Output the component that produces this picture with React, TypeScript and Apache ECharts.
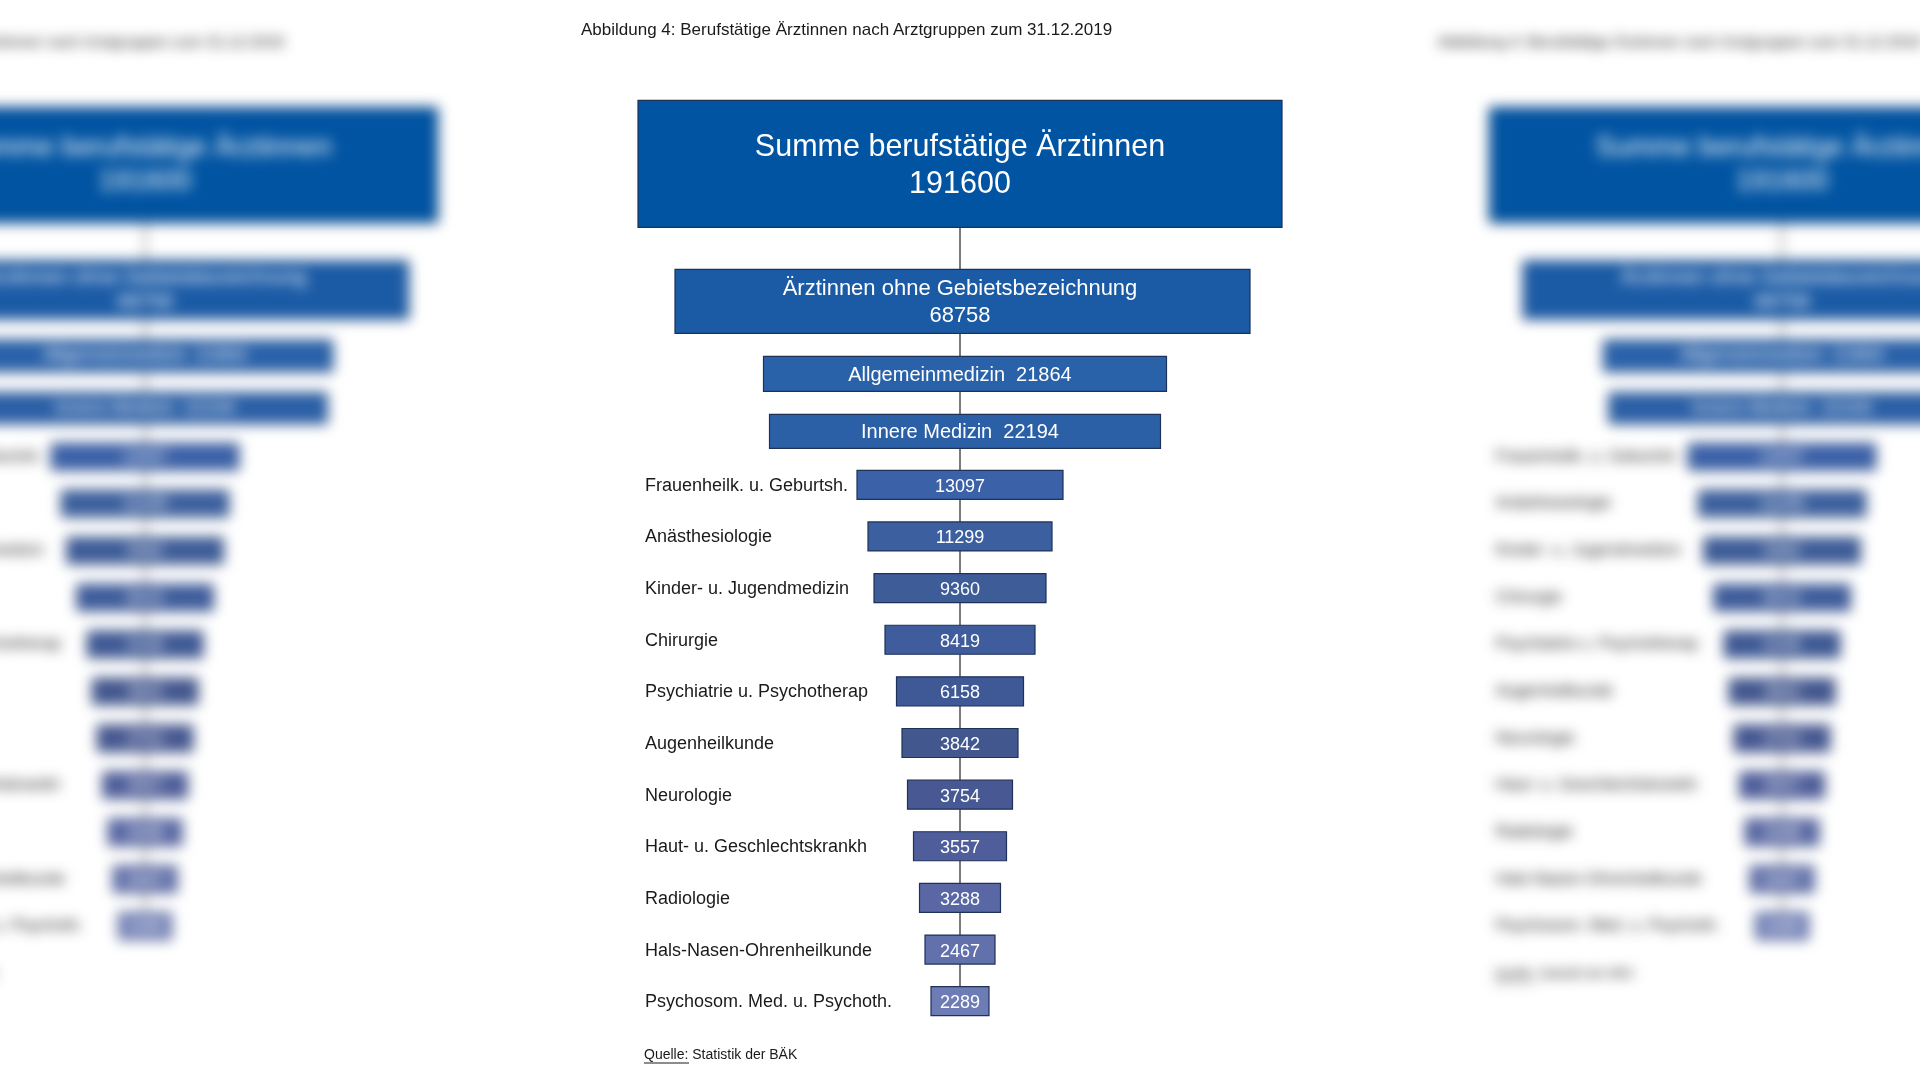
import React, { useEffect, useRef } from "react";
import * as echarts from "echarts";

// ---------- data ----------
const TITLE = "Abbildung 4: Berufstätige Ärztinnen nach Arztgruppen zum 31.12.2019";
const SOURCE_TEXT = "Quelle: Statistik der BÄK";

const TOTAL_LABEL = "Summe berufstätige Ärztinnen";
const TOTAL_VALUE = 191600;

const GROUP_NAMES = ["Ärztinnen ohne Gebietsbezeichnung", "Allgemeinmedizin", "Innere Medizin"];
const GROUP_VALUES = [68758, 21864, 22194];

const SPECIALTIES = [
  "Frauenheilk. u. Geburtsh.",
  "Anästhesiologie",
  "Kinder- u. Jugendmedizin",
  "Chirurgie",
  "Psychiatrie u. Psychotherap",
  "Augenheilkunde",
  "Neurologie",
  "Haut- u. Geschlechtskrankh",
  "Radiologie",
  "Hals-Nasen-Ohrenheilkunde",
  "Psychosom. Med. u. Psychoth.",
];
const SPECIALTY_VALUES = [13097, 11299, 9360, 8419, 6158, 3842, 3754, 3557, 3288, 2467, 2289];

// ---------- style / layout ----------
const FONT = "'Liberation Sans', Arial, Helvetica, sans-serif";
const BORDER = "#1f3159";
const CONNECTOR = "#222222";
const HEADER_STYLE = [
  { w: 644, h: 127, gap: 42, dx: 0, fill: "#0154a2", fontSize: 30.5, lineHeight: 37, twoLine: true },
  { w: 575, h: 64, gap: 23, dx: 2.5, fill: "#1b5ba6", fontSize: 22, lineHeight: 27, twoLine: true },
  { w: 403, h: 35, gap: 23, dx: 5, fill: "#2a62aa", fontSize: 20, lineHeight: 24, twoLine: false },
  { w: 391, h: 34, gap: 22, dx: 5, fill: "#2b60a7", fontSize: 20, lineHeight: 24, twoLine: false },
];
const SPEC_WIDTHS = [206, 184, 172, 150, 127, 116, 105, 93, 81, 70, 58];
const SPEC_COLORS = [
  "#3b61a8", "#3c609f", "#3d5c98", "#3f5d9c", "#3e5995", "#43578f",
  "#475892", "#4f5e9b", "#5968a5", "#6271ab", "#6d7cb5",
];
const SPEC_BOX_H = 29;

function buildOption(): any {
  const headerNames = [TOTAL_LABEL, ...GROUP_NAMES];
  const headerValues = [TOTAL_VALUE, ...GROUP_VALUES];

  const headerTops = (firstSpecTop: number) => {
    const tops: number[] = [];
    let bottomRef = firstSpecTop;
    for (let k = HEADER_STYLE.length - 1; k >= 0; k--) {
      const bottom = bottomRef - HEADER_STYLE[k].gap;
      const top = bottom - HEADER_STYLE[k].h;
      tops[k] = top;
      bottomRef = top;
    }
    return tops;
  };

  return {
    animation: false,
    backgroundColor: "transparent",
    title: {
      text: TITLE,
      left: 581,
      top: 21,
      padding: 0,
      textStyle: { fontFamily: FONT, fontSize: 17, fontWeight: "normal", color: "#1a1a1a" },
    },
    grid: { left: 637, right: 637, top: 459, bottom: 53, containLabel: false },
    xAxis: {
      type: "value",
      min: -323,
      max: 323,
      show: false,
    },
    yAxis: {
      type: "category",
      data: SPECIALTIES,
      inverse: true,
      axisLine: { show: false },
      axisTick: { show: false },
      splitLine: { show: false },
      axisLabel: {
        inside: true,
        margin: 8,
        fontFamily: FONT,
        fontSize: 18,
        color: "#1a1a1a",
      },
    },
    graphic: [
      {
        type: "text",
        left: 644,
        top: 1047,
        style: { text: SOURCE_TEXT, fontFamily: FONT, fontSize: 14, fill: "#1a1a1a" },
      },
      {
        type: "line",
        shape: { x1: 644, y1: 1063, x2: 689, y2: 1063 },
        style: { stroke: "#1a1a1a", lineWidth: 1 },
      },
    ],
    series: [
      {
        type: "custom",
        name: "Gruppen",
        coordinateSystem: "cartesian2d",
        clip: false,
        encode: { x: 0, y: 1 },
        data: headerValues.map((v) => [v, 0]),
        renderItem: (params: any, api: any) => {
          const k = params.dataIndex;
          const c0 = api.coord([0, 0]);
          const firstTop = c0[1] - SPEC_BOX_H / 2;
          const tops = headerTops(firstTop);
          const st = HEADER_STYLE[k];
          const cx = c0[0];
          const bx = cx + st.dx;
          const top = tops[k];
          const nextTop = k < HEADER_STYLE.length - 1 ? tops[k + 1] : firstTop;
          const val = api.value(0);
          const text = st.twoLine ? `${headerNames[k]}\n${val}` : `${headerNames[k]}  ${val}`;
          return {
            type: "group",
            children: [
              {
                type: "line",
                shape: { x1: cx, y1: top + st.h, x2: cx, y2: nextTop },
                style: { stroke: CONNECTOR, lineWidth: 1.2 },
              },
              {
                type: "rect",
                shape: { x: bx - st.w / 2, y: top, width: st.w, height: st.h },
                style: { fill: st.fill, stroke: BORDER, lineWidth: 1.2 },
              },
              {
                type: "text",
                style: {
                  text,
                  x: cx,
                  y: top + st.h / 2,
                  align: "center",
                  verticalAlign: "middle",
                  fill: "#ffffff",
                  fontFamily: FONT,
                  fontSize: st.fontSize,
                  lineHeight: st.lineHeight,
                },
              },
            ],
          };
        },
      },
      {
        type: "custom",
        name: "Fachgebiete",
        coordinateSystem: "cartesian2d",
        clip: false,
        encode: { x: 0, y: 1 },
        data: SPECIALTY_VALUES.map((v, i) => [v, SPECIALTIES[i]]),
        renderItem: (params: any, api: any) => {
          const i = params.dataIndex;
          const c = api.coord([0, api.value(1)]);
          const w = SPEC_WIDTHS[i];
          const h = SPEC_BOX_H;
          const children: any[] = [];
          if (i < SPECIALTIES.length - 1) {
            const next = api.coord([0, i + 1]);
            children.push({
              type: "line",
              shape: { x1: c[0], y1: c[1] + h / 2, x2: c[0], y2: next[1] - h / 2 },
              style: { stroke: CONNECTOR, lineWidth: 1.2 },
            });
          }
          children.push({
            type: "rect",
            shape: { x: c[0] - w / 2, y: c[1] - h / 2, width: w, height: h },
            style: { fill: SPEC_COLORS[i], stroke: BORDER, lineWidth: 1.2 },
          });
          children.push({
            type: "text",
            style: {
              text: String(api.value(0)),
              x: c[0],
              y: c[1] + 1,
              align: "center",
              verticalAlign: "middle",
              fill: "#ffffff",
              fontFamily: FONT,
              fontSize: 18,
            },
          });
          return { type: "group", children };
        },
      },
    ],
  };
}

function ChartLayer({ renderer, style }: { renderer: "svg" | "canvas"; style: React.CSSProperties }) {
  const ref = useRef<HTMLDivElement | null>(null);
  useEffect(() => {
    if (!ref.current) return;
    const chart = echarts.init(ref.current, undefined, { renderer, width: 1920, height: 1080 });
    chart.setOption(buildOption());
    return () => chart.dispose();
  }, [renderer]);
  return <div ref={ref} style={{ position: "absolute", left: 0, top: 0, width: 1920, height: 1080, ...style }} />;
}

export default function App() {
  const scale = 0.909;
  return (
    <div
      style={{
        position: "fixed",
        left: 0,
        top: 0,
        width: 1920,
        height: 1080,
        background: "#ffffff",
        overflow: "hidden",
      }}
    >
      <ChartLayer
        renderer="canvas"
        style={{
          transformOrigin: "0 0",
          transform: `translate(${145 - 960 * scale}px, 16px) scale(${scale})`,
          filter: "blur(7px)",
        }}
      />
      <ChartLayer
        renderer="canvas"
        style={{
          transformOrigin: "0 0",
          transform: `translate(${1782 - 960 * scale}px, 16px) scale(${scale})`,
          filter: "blur(7px)",
        }}
      />
      <ChartLayer renderer="svg" style={{}} />
    </div>
  );
}
